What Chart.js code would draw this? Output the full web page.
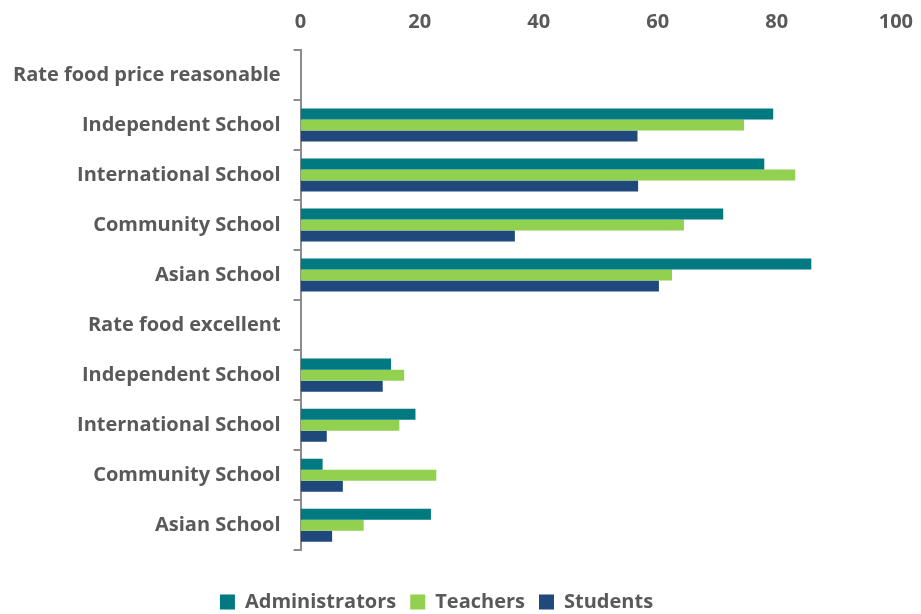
<!DOCTYPE html>
<html>
<head>
<meta charset="utf-8">
<script src="https://cdn.jsdelivr.net/npm/chart.js@4.4.0/dist/chart.umd.min.js"></script>
<style>
  body { margin: 0; background: #fff; }
  #wrap { width: 921px; height: 614px; }
</style>
</head>
<body>
<div id="wrap"><canvas id="myChart"></canvas></div>
<script>
// chart data
const categories = [
  'Rate food price reasonable',
  'Independent School',
  'International School',
  'Community School',
  'Asian School',
  'Rate food excellent',
  'Independent School',
  'International School',
  'Community School',
  'Asian School'
];
const administrators = [null, 79.4, 77.9, 71.0, 85.8, null, 15.2, 19.3, 3.7, 21.9];
const teachers       = [null, 74.5, 83.1, 64.4, 62.4, null, 17.4, 16.6, 22.8, 10.6];
const students       = [null, 56.6, 56.7, 36.0, 60.2, null, 13.8, 4.4, 7.1, 5.3];
const xTicks = [0, 20, 40, 60, 80, 100];

const grey = '#595959';
const font = { family: 'Open Sans', weight: 'bold', size: 20 };

const ctx = document.getElementById('myChart');

// nudge the legend to where it sits in the original
const legendShift = {
  id: 'legendShift',
  afterLayout(chart) {
    const lg = chart.legend;
    lg.left -= 22;
    lg.right -= 22;
    lg.top += 8;
    lg.bottom += 8;
  }
};

new Chart(ctx, {
  type: 'bar',
  data: {
    labels: categories,
    datasets: [
      { label: 'Administrators', data: administrators, backgroundColor: '#007A80' },
      { label: 'Teachers', data: teachers, backgroundColor: '#92D050' },
      { label: 'Students', data: students, backgroundColor: '#1F497D' }
    ]
  },
  options: {
    indexAxis: 'y',
    responsive: true,
    maintainAspectRatio: false,
    animation: false,
    layout: { padding: { left: 0, right: 4, top: 2, bottom: 0 } },
    datasets: {
      bar: { barPercentage: 1, categoryPercentage: 0.66 }
    },
    scales: {
      x: {
        position: 'top',
        min: 0,
        max: 100,
        afterBuildTicks: axis => { axis.ticks = xTicks.map(v => ({ value: v })); },
        grid: { display: false },
        border: { display: false },
        ticks: { color: grey, font: font, padding: 8 }
      },
      y: {
        grid: {
          drawOnChartArea: false,
          drawTicks: true,
          tickLength: 7,
          color: '#8c8c8c',
          lineWidth: 2
        },
        border: { display: true, color: '#8c8c8c', width: 2 },
        ticks: { color: grey, font: font, padding: 13 }
      }
    },
    plugins: {
      legend: {
        position: 'bottom',
        title: { display: true, text: ' ', padding: 0, font: { size: 16.5 } },
        labels: {
          color: grey,
          font: font,
          boxWidth: 15,
          boxHeight: 15,
          padding: 14
        }
      },
      tooltip: { enabled: false }
    }
  },
  plugins: [legendShift]
});
</script>
</body>
</html>
